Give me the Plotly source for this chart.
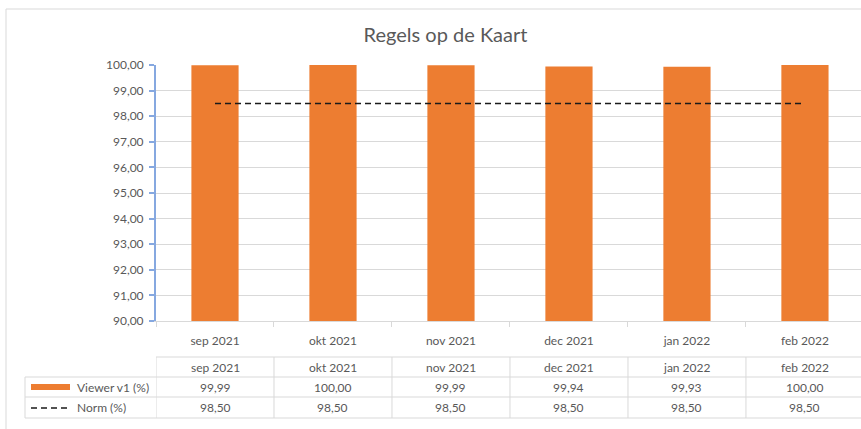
import plotly.graph_objects as go

categories = ["sep 2021", "okt 2021", "nov 2021", "dec 2021", "jan 2022", "feb 2022"]
viewer_values = [99.99, 100.00, 99.99, 99.94, 99.93, 100.00]
norm_values = [98.50, 98.50, 98.50, 98.50, 98.50, 98.50]
series_names = ["Viewer v1 (%)", "Norm (%)"]
y_ticks = [90, 91, 92, 93, 94, 95, 96, 97, 98, 99, 100]

W, H = 861, 429
L, R, T, B = 156, 0, 65, 108
PW = W - L - R
PH = H - T - B

def py(p):
    return (H - B - p) / PH

def px(p):
    return (p - L) / PW

GRAY = "#595959"
GRID = "#d9d9d9"
FONT = "Lato, 'Open Sans', sans-serif"

fig = go.Figure()
fig.add_trace(go.Bar(x=categories, y=viewer_values, name=series_names[0],
                     marker=dict(color="#ED7D31", line=dict(width=0)), width=0.4,
                     showlegend=False))
fig.add_trace(go.Scatter(x=categories, y=norm_values, name=series_names[1], mode="lines",
                         line=dict(color="#1a1a1a", width=1.5, dash="6px,4px"),
                         showlegend=False))

shapes = []
annotations = []
# outer chart border
shapes.append(dict(type="rect", xref="paper", yref="paper",
                   x0=px(6), x1=px(W + 20), y0=py(H + 20), y1=py(9),
                   line=dict(color="#d9d9d9", width=1)))

# table grid
row_lines = [357, 377, 397, 418]
for i, yl in enumerate(row_lines):
    x0 = L if i == 0 else 25
    shapes.append(dict(type="line", xref="paper", yref="paper",
                       x0=px(x0), x1=px(W + 5), y0=py(yl), y1=py(yl),
                       line=dict(color=GRID, width=1)))
# left border for data rows
shapes.append(dict(type="line", xref="paper", yref="paper",
                   x0=px(25), x1=px(25), y0=py(377), y1=py(418),
                   line=dict(color=GRID, width=1)))
# column boundaries
for k in range(len(categories)):
    shapes.append(dict(type="line", xref="x", yref="paper",
                       x0=k - 0.5, x1=k - 0.5, y0=py(357), y1=py(418),
                       line=dict(color=GRID, width=1)))

# table texts
def fmt(v):
    return f"{v:.2f}".replace(".", ",")

row_text_y = [367, 387, 407]
for k, c in enumerate(categories):
    for r, txt in enumerate([c, fmt(viewer_values[k]), fmt(norm_values[k])]):
        annotations.append(dict(x=c, y=py(row_text_y[r]), xref="x", yref="paper", text=txt,
                                xanchor="center", yanchor="middle",
                                showarrow=False, font=dict(size=12, color=GRAY, family=FONT)))

# legend keys in table
shapes.append(dict(type="rect", xref="paper", yref="paper",
                   x0=px(31), x1=px(70), y0=py(390), y1=py(384),
                   fillcolor="#ED7D31", line=dict(width=0)))
shapes.append(dict(type="line", xref="paper", yref="paper",
                   x0=px(31), x1=px(69), y0=py(408), y1=py(408),
                   line=dict(color="#1a1a1a", width=1.5, dash="6px,4px")))
annotations.append(dict(x=px(75), y=py(387), xref="paper", yref="paper", text=series_names[0],
                        xanchor="left", yanchor="middle", showarrow=False,
                        font=dict(size=12, color=GRAY, family=FONT)))
annotations.append(dict(x=px(75), y=py(407), xref="paper", yref="paper", text=series_names[1],
                        xanchor="left", yanchor="middle", showarrow=False,
                        font=dict(size=12, color=GRAY, family=FONT)))

fig.update_layout(
    width=W, height=H,
    margin=dict(l=L, r=R, t=T, b=B, autoexpand=False),
    paper_bgcolor="white", plot_bgcolor="white",
    separators=",.",
    title=dict(text="Regels op de Kaart", x=(363 + 528) / 2 / W, xanchor="center",
               y=1 - 35 / H, yanchor="middle",
               font=dict(size=20, color=GRAY, family=FONT)),
    shapes=shapes, annotations=annotations,
    bargap=0.6,
)
fig.update_yaxes(range=[90, 100], tickvals=y_ticks, tickformat=".2f",
                 showgrid=True, gridcolor=GRID, gridwidth=1,
                 showline=True, linecolor="#86A8E0", linewidth=2,
                 ticks="outside", ticklen=5, tickcolor="#86A8E0", tickwidth=2,
                 ticklabelstandoff=3,
                 tickfont=dict(size=12, color=GRAY, family=FONT), zeroline=False)
fig.update_xaxes(type="category", range=[-0.5, 5.475],
                 showline=True, linecolor=GRID, linewidth=1,
                 ticks="outside", tickson="boundaries", ticklen=5, tickcolor=GRID,
                 ticklabelstandoff=9,
                 tickfont=dict(size=12, color=GRAY, family=FONT), showgrid=False)

fig.write_html("out.html", config={"displayModeBar": False},
               post_script="document.body.style.margin='0px';document.body.style.overflow='hidden';")
